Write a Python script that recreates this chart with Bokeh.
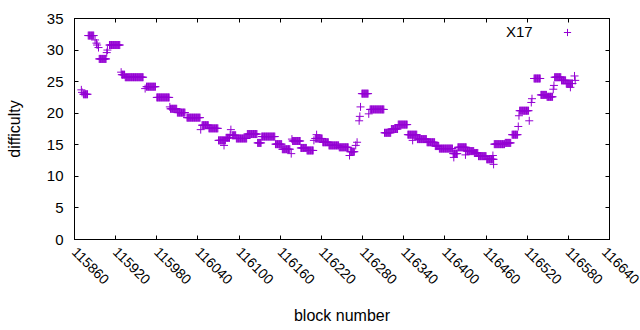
import math
from bokeh.plotting import figure
from bokeh.models import (LinearAxis, FixedTicker, BasicTickFormatter, Range1d,
                          Label, Legend, LegendItem, ColumnDataSource,
                          CustomJSTickFormatter)
from bokeh.embed import file_html
from bokeh.resources import INLINE

# ---- data (runs of constant difficulty) ----
run_start = [115873, 115880, 115896, 115911, 115929, 115934, 115965, 115980,
             116000, 116010, 116024, 116046, 116056, 116070, 116081, 116090,
             116096, 116112, 116127, 116133, 116153, 116163, 116178, 116190,
             116199, 116211, 116222, 116231, 116246, 116262, 116279, 116291,
             116312, 116322, 116332, 116346, 116360, 116374, 116386, 116392,
             116412, 116419, 116432, 116443, 116449, 116461, 116472, 116488,
             116498, 116509, 116530, 116540, 116549, 116560, 116570, 116577]
run_end = [115879, 115888, 115906, 115926, 115933, 115960, 115978, 115998,
           116009, 116021, 116043, 116055, 116069, 116080, 116086, 116095,
           116111, 116126, 116132, 116152, 116162, 116174, 116189, 116198,
           116208, 116221, 116230, 116245, 116259, 116268, 116288, 116311,
           116321, 116331, 116345, 116359, 116373, 116385, 116391, 116411,
           116418, 116431, 116442, 116448, 116460, 116471, 116487, 116496,
           116506, 116522, 116539, 116548, 116557, 116569, 116576, 116586]
run_value = [23.0, 32.3, 28.6, 30.8, 26.1, 25.7, 24.2, 22.5,
             20.7, 20.1, 19.3, 18.1, 17.6, 15.7, 16.1, 16.5,
             16.0, 16.7, 15.3, 16.3, 15.1, 14.3, 15.6, 14.5,
             14.1, 16.0, 15.4, 14.9, 14.6, 13.9, 23.1, 20.6,
             16.9, 17.5, 18.2, 16.6, 15.9, 15.4, 14.8, 14.4,
             13.6, 14.6, 14.0, 13.7, 13.2, 12.7, 15.1, 15.3,
             16.6, 20.4, 25.5, 22.9, 22.6, 25.7, 25.2, 24.7]

# single blocks off the runs
iso_block = [115870, 115871, 115890, 115892, 115893, 115895, 115907, 115908,
             115928, 115963, 115999, 116044, 116078, 116087, 116088, 116176,
             116177, 116209, 116213, 116261, 116270, 116272, 116275, 116276,
             116277, 116289, 116353, 116413, 116430, 116470, 116471, 116507,
             116508, 116523, 116526, 116527, 116558, 116559, 116583, 116589,
             116590]
iso_value = [23.7, 23.3, 31.6, 31.1, 30.8, 30.4, 29.6, 30.0,
             26.5, 23.9, 21.0, 17.4, 14.9, 16.6, 17.4, 13.6,
             15.9, 15.7, 16.6, 13.3, 14.9, 15.4, 18.8, 19.5,
             21.0, 19.9, 15.7, 13.0, 13.4, 13.3, 11.9, 17.9,
             19.6, 18.8, 21.7, 22.3, 23.8, 24.4, 24.1, 25.9,
             25.2]

x_ticks = [115860, 115920, 115980, 116040, 116100, 116160, 116220, 116280,
           116340, 116400, 116460, 116520, 116580, 116640]
y_ticks = [0, 5, 10, 15, 20, 25, 30, 35]
series_name = "X17"

blocks, diffs = [], []
for s, e, v in zip(run_start, run_end, run_value):
    for b in range(s, e + 1):
        blocks.append(b)
        diffs.append(v)
blocks += iso_block
diffs += iso_value
src = ColumnDataSource(dict(block=blocks, difficulty=diffs))

PURPLE = "#9400D3"
FONT = "Liberation Sans"

p = figure(width=640, height=330, output_backend="svg", toolbar_location=None,
           title=None, x_range=Range1d(115860, 116640), y_range=Range1d(0, 35),
           min_border_left=74, min_border_right=31, min_border_top=18,
           min_border_bottom=91)
p.grid.visible = False
p.outline_line_color = "black"
p.outline_line_alpha = 1.0
p.background_fill_color = "white"
p.border_fill_color = "white"

r = p.scatter(x="block", y="difficulty", source=src, marker="cross", size=8,
              line_color=PURPLE, line_width=1)

xa = p.xaxis[0]
xa.ticker = FixedTicker(ticks=x_ticks)
xa.formatter = BasicTickFormatter(use_scientific=False)
xa.major_label_orientation = -math.pi / 4
xa.major_tick_in = 4
xa.major_tick_out = 0
xa.minor_tick_line_color = None
xa.major_label_standoff = 10
xa.major_label_text_font = FONT
xa.major_label_text_font_size = "14px"
xa.major_label_text_color = "black"
xa.axis_label = "block number"
xa.axis_label_text_font = FONT
xa.axis_label_text_font_size = "16px"
xa.axis_label_text_font_style = "normal"
xa.axis_label_text_color = "black"
xa.axis_label_standoff = 15
xa.axis_line_color = "black"

ya = p.yaxis[0]
ya.ticker = FixedTicker(ticks=y_ticks)
ya.major_tick_in = 4
ya.major_tick_out = 0
ya.minor_tick_line_color = None
ya.major_label_standoff = 11
ya.major_label_text_font = FONT
ya.major_label_text_font_size = "15px"
ya.major_label_text_color = "black"
ya.axis_label = "difficulty"
ya.axis_label_text_font = FONT
ya.axis_label_text_font_size = "16px"
ya.axis_label_text_font_style = "normal"
ya.axis_label_text_color = "black"
ya.axis_label_standoff = 21
ya.axis_line_color = "black"

blank = CustomJSTickFormatter(code="return ''")
top = LinearAxis(ticker=FixedTicker(ticks=x_ticks), formatter=blank,
                 major_tick_in=4, major_tick_out=0, minor_tick_line_color=None,
                 major_label_standoff=0, axis_line_color="black")
p.add_layout(top, "above")
right = LinearAxis(ticker=FixedTicker(ticks=y_ticks), formatter=blank,
                   major_tick_in=4, major_tick_out=0, minor_tick_line_color=None,
                   major_label_standoff=0, axis_line_color="black")
p.add_layout(right, "right")

legend = Legend(items=[LegendItem(label=" ", renderers=[r])], location="top_right",
                margin=5, padding=0, glyph_width=18, glyph_height=18,
                label_width=28, label_height=18, label_standoff=0,
                border_line_color=None, background_fill_alpha=0,
                label_text_font_size="10px")
p.add_layout(legend)

p.add_layout(Label(x=116528, y=32.9, text=series_name, text_align="right",
                   text_baseline="middle", text_font=FONT, text_font_size="15px",
                   text_color="black"))

open("out.html", "w").write(file_html(p, INLINE))
